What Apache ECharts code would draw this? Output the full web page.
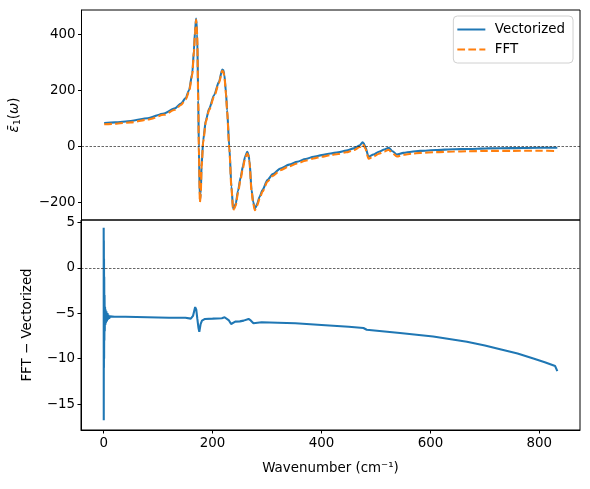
<!DOCTYPE html>
<html>
<head>
<meta charset="utf-8">
<script src="https://cdn.jsdelivr.net/npm/echarts@6/dist/echarts.min.js"></script>
<style>
html,body{margin:0;padding:0;background:#fff;}
#chart{width:590px;height:489px;}
</style>
</head>
<body>
<div id="chart"></div>
<script>
// ---- data ----
const topX = [0, 20, 49, 80, 110, 130, 141, 150, 156, 162, 165, 167, 169, 171, 173, 174, 176, 177.5, 179, 182, 187, 193, 202, 211, 217, 219, 221, 224, 226, 230, 234, 237, 239, 242, 246, 251, 255, 259, 263, 265, 267, 271, 274, 277, 279, 281, 286, 291, 300, 310, 324, 340, 355, 370, 385, 400, 416, 430, 445, 459, 470, 475, 477, 480, 486, 495, 505, 515, 523, 530, 538, 550, 565, 581, 610, 642, 670, 703, 750, 800, 833];
const vectorized = [83, 85, 90, 100, 117, 135, 152, 172, 200, 260, 343, 410, 456, 402, 164, -2, -193, -170, -74, 21, 93, 134, 182, 230, 274, 272, 254, 190, 129, -2, -145, -223, -218, -205, -160, -110, -72, -38, -20, -28, -50, -157, -200, -223, -218, -207, -180, -157, -121, -100, -80, -66, -56, -46, -38, -32, -26, -22, -16, -8, 3, 14, 10, -2, -38, -30, -20, -12, -6, -18, -30, -24, -20, -17, -14, -11, -10, -8, -7, -6, -6];
const fft = [78, 80, 85, 95, 112, 130, 147, 167, 195, 255, 338, 405, 452, 398, 159, -8, -200, -176, -80, 15, 88, 129, 177, 225, 269, 267, 249, 185, 124, -8, -151, -229, -224, -211, -166, -116, -78, -44, -26, -34, -56, -163, -206, -229, -224, -213, -186, -163, -127, -106, -86, -72, -62, -52, -44, -38, -32, -28, -22, -14, -3, 7, 3, -9, -45, -37, -27, -19, -13, -25, -37, -31, -27, -24, -21.5, -19.3, -18.4, -17, -16.8, -16.5, -17.2];

const diffX = [0, 0.15, 0.3, 0.45, 0.6, 0.8, 1.0, 1.3, 1.6, 2, 2.5, 3, 3.5, 4, 5, 6, 7, 8, 9, 10, 12, 15, 20, 40, 80, 120, 150, 160, 164, 168, 170, 172, 174, 175.6, 178, 180.5, 186, 200, 217, 222, 225, 230, 234, 241.6, 250, 257, 266, 270, 275, 290, 320, 352, 400, 450, 477, 480, 483, 544, 605, 667, 700, 728, 760, 789, 810, 829, 831, 833];
const diff = [4.4, -16.8, 3, -11, 1, -10, -1, -8, -3, -7, -4.3, -6.3, -4.6, -6.1, -4.8, -5.9, -5.0, -5.7, -5.2, -5.6, -5.35, -5.45, -5.4, -5.4, -5.45, -5.5, -5.5, -5.6, -5.3, -4.33, -4.6, -5.63, -6.6, -7.04, -6.2, -5.82, -5.63, -5.6, -5.55, -5.45, -5.37, -5.8, -6.19, -5.93, -5.9, -5.82, -5.63, -5.8, -6.11, -6.0, -6.05, -6.11, -6.3, -6.5, -6.63, -6.75, -6.82, -7.19, -7.56, -8.15, -8.55, -8.97, -9.45, -10.0, -10.4, -10.82, -11.0, -11.38];

const xTicks = [0, 200, 400, 600, 800];
const topYTicks = [-200, 0, 200, 400];
const bottomYTicks = [-15, -10, -5, 0, 5];

// ---- chart ----
const FONT = 'DejaVu Sans';
const FS = 13.4;
const pairs = (xs, ys) => xs.map((x, i) => [x, ys[i]]);

const zeroLine = {
  silent: true,
  symbol: 'none',
  label: { show: false },
  lineStyle: { type: [2.5, 1.5], color: '#000', width: 0.6 },
  data: [{ yAxis: 0 }]
};

const chart = echarts.init(document.getElementById('chart'), null, { renderer: 'canvas' });
const xMin = -41.65, xMax = 874.65;

chart.setOption({
  animation: false,
  backgroundColor: '#fff',
  textStyle: { fontFamily: FONT },
  grid: [
    { left: 81, right: 10, top: 10, height: 210, show: true, borderColor: '#000', borderWidth: 1, backgroundColor: 'transparent' },
    { left: 81, right: 10, top: 220, height: 210, show: true, borderColor: '#000', borderWidth: 1, backgroundColor: 'transparent' }
  ],
  legend: {
    data: [
      { name: 'Vectorized', icon: 'path://M0,0h28v2h-28z' },
      { name: 'FFT', icon: 'path://M0,0h7.7v2h-7.7zM11,0h7.7v2h-7.7zM22,0h6v2h-6z' }
    ],
    orient: 'vertical',
    right: 17,
    top: 16,
    itemWidth: 29,
    itemHeight: 2,
    itemGap: 7,
    padding: [7, 8, 7, 4],
    borderColor: '#d0d0d0',
    borderWidth: 1,
    borderRadius: 4,
    backgroundColor: 'rgba(255,255,255,0.8)',
    textStyle: { fontFamily: FONT, fontSize: FS, color: '#000', padding: [0, 0, 0, 4] }
  },
  xAxis: [
    {
      type: 'value', gridIndex: 0, min: xMin, max: xMax,
      axisLine: { show: false }, axisTick: { show: false }, axisLabel: { show: false },
      splitLine: { show: false }
    },
    {
      type: 'value', gridIndex: 1, min: xMin, max: xMax,
      axisLine: { show: true, onZero: false, lineStyle: { color: '#000', width: 1 } },
      axisTick: { show: true, inside: false, length: 3.5, lineStyle: { color: '#000' }, customValues: xTicks },
      axisLabel: { show: true, margin: 7, fontFamily: FONT, fontSize: FS, color: '#000', customValues: xTicks },
      splitLine: { show: false },
      name: 'Wavenumber (cm⁻¹)',
      nameLocation: 'middle',
      nameGap: 32,
      nameTextStyle: { fontFamily: FONT, fontSize: FS, color: '#000' }
    }
  ],
  yAxis: [
    {
      type: 'value', gridIndex: 0, min: -264, max: 486.7,
      axisLine: { show: true, onZero: false, lineStyle: { color: '#000', width: 1 } },
      axisTick: { show: true, inside: false, length: 3.5, lineStyle: { color: '#000' }, customValues: topYTicks },
      axisLabel: { show: true, margin: 6, fontFamily: FONT, fontSize: FS, color: '#000', customValues: topYTicks,
        formatter: v => (v < 0 ? '\u2212' + Math.abs(v) : '' + v) },
      splitLine: { show: false },
      name: '{e|ε̄}{s|1}{p|(}{e|ω}{p|)}',
      nameLocation: 'middle',
      nameGap: 59,
      nameTextStyle: {
        fontFamily: FONT, fontSize: FS, color: '#000',
        rich: {
          e: { fontFamily: FONT, fontSize: FS, fontStyle: 'italic', color: '#000' },
          p: { fontFamily: FONT, fontSize: FS, color: '#000' },
          s: { fontFamily: FONT, fontSize: 9.5, color: '#000', verticalAlign: 'bottom', padding: [6, 0, 0, 0] }
        }
      }
    },
    {
      type: 'value', gridIndex: 1, min: -17.86, max: 5.26,
      axisLine: { show: true, onZero: false, lineStyle: { color: '#000', width: 1 } },
      axisTick: { show: true, inside: false, length: 3.5, lineStyle: { color: '#000' }, customValues: bottomYTicks },
      axisLabel: { show: true, margin: 6, fontFamily: FONT, fontSize: FS, color: '#000', customValues: bottomYTicks,
        formatter: v => (v < 0 ? '\u2212' + Math.abs(v) : '' + v) },
      splitLine: { show: false },
      name: 'FFT \u2212 Vectorized',
      nameLocation: 'middle',
      nameGap: 47,
      nameTextStyle: { fontFamily: FONT, fontSize: FS, color: '#000' }
    }
  ],
  series: [
    {
      name: 'Vectorized', type: 'line', xAxisIndex: 0, yAxisIndex: 0,
      data: pairs(topX, vectorized),
      showSymbol: false, symbol: 'none', smooth: 0.25, smoothMonotone: 'x',
      lineStyle: { color: '#1f77b4', width: 2.08 },
      itemStyle: { color: '#1f77b4' },
      markLine: zeroLine,
      z: 2
    },
    {
      name: 'FFT', type: 'line', xAxisIndex: 0, yAxisIndex: 0,
      data: pairs(topX, fft),
      showSymbol: false, symbol: 'none', smooth: 0.25, smoothMonotone: 'x',
      lineStyle: { color: '#ff7f0e', width: 2.08, type: [7.7, 3.3] },
      itemStyle: { color: '#ff7f0e' },
      z: 3
    },
    {
      name: 'diff', type: 'line', xAxisIndex: 1, yAxisIndex: 1,
      data: pairs(diffX, diff),
      showSymbol: false, symbol: 'none',
      lineStyle: { color: '#1f77b4', width: 2.08 },
      itemStyle: { color: '#1f77b4' },
      markLine: zeroLine,
      z: 2
    }
  ]
});
</script>
</body>
</html>
